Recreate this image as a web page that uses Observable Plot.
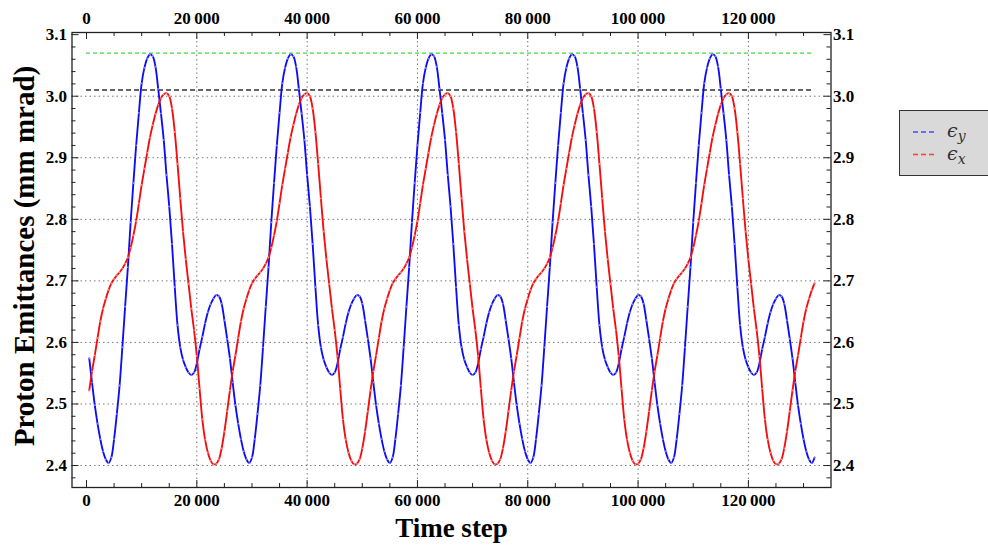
<!DOCTYPE html>
<html>
<head>
<meta charset="utf-8">
<script src="https://cdn.jsdelivr.net/npm/d3@7"></script>
<script src="https://cdn.jsdelivr.net/npm/@observablehq/plot@0.6"></script>
<style>
html, body { margin: 0; padding: 0; background: #fff; overflow: hidden; }
#wrap { position: relative; width: 988px; height: 546px; }
#legend { position: absolute; left: 899px; top: 110px; width: 100px; height: 66px; background: #d9d9d9; border: 1.5px solid #333; box-sizing: border-box; }
</style>
</head>
<body>
<div id="wrap"><div id="chart"></div><div id="legend"></div></div>
<script>
// ---- data ----
const steps = d3.range(500, 132001, 500); // time steps of the samples

// epsilon_y (blue)
const emitY = [
  2.574, 2.535, 2.498, 2.468, 2.443, 2.423, 2.410, 2.404, 2.413, 2.443,
  2.484, 2.530, 2.592, 2.658, 2.722, 2.795, 2.859, 2.920, 2.973, 3.021,
  3.046, 3.061, 3.068, 3.065, 3.048, 3.012, 2.972, 2.929, 2.872, 2.821,
  2.760, 2.690, 2.628, 2.592, 2.572, 2.560, 2.551, 2.547, 2.551, 2.566,
  2.589, 2.609, 2.631, 2.649, 2.662, 2.671, 2.677, 2.675, 2.663, 2.636,
  2.606,
  2.574, 2.535, 2.498, 2.468, 2.443, 2.423, 2.410, 2.404, 2.413, 2.443,
  2.484, 2.530, 2.592, 2.658, 2.722, 2.795, 2.859, 2.920, 2.973, 3.021,
  3.046, 3.061, 3.068, 3.065, 3.048, 3.012, 2.972, 2.929, 2.872, 2.821,
  2.760, 2.690, 2.628, 2.592, 2.572, 2.560, 2.551, 2.547, 2.551, 2.566,
  2.589, 2.609, 2.631, 2.649, 2.662, 2.671, 2.677, 2.675, 2.663, 2.636,
  2.606,
  2.574, 2.535, 2.498, 2.468, 2.443, 2.423, 2.410, 2.404, 2.413, 2.443,
  2.484, 2.530, 2.592, 2.658, 2.722, 2.795, 2.859, 2.920, 2.973, 3.021,
  3.046, 3.061, 3.068, 3.065, 3.048, 3.012, 2.972, 2.929, 2.872, 2.821,
  2.760, 2.690, 2.628, 2.592, 2.572, 2.560, 2.551, 2.547, 2.551, 2.566,
  2.589, 2.609, 2.631, 2.649, 2.662, 2.671, 2.677, 2.675, 2.663, 2.636,
  2.606,
  2.574, 2.535, 2.498, 2.468, 2.443, 2.423, 2.410, 2.404, 2.413, 2.443,
  2.484, 2.530, 2.592, 2.658, 2.722, 2.795, 2.859, 2.920, 2.973, 3.021,
  3.046, 3.061, 3.068, 3.065, 3.048, 3.012, 2.972, 2.929, 2.872, 2.821,
  2.760, 2.690, 2.628, 2.592, 2.572, 2.560, 2.551, 2.547, 2.551, 2.566,
  2.589, 2.609, 2.631, 2.649, 2.662, 2.671, 2.677, 2.675, 2.663, 2.636,
  2.606,
  2.574, 2.535, 2.498, 2.468, 2.443, 2.423, 2.410, 2.404, 2.413, 2.443,
  2.484, 2.530, 2.592, 2.658, 2.722, 2.795, 2.859, 2.920, 2.973, 3.021,
  3.046, 3.061, 3.068, 3.065, 3.048, 3.012, 2.972, 2.929, 2.872, 2.821,
  2.760, 2.690, 2.628, 2.592, 2.572, 2.560, 2.551, 2.547, 2.551, 2.566,
  2.589, 2.609, 2.631, 2.649, 2.662, 2.671, 2.677, 2.675, 2.663, 2.636,
  2.606,
  2.574, 2.535, 2.498, 2.468, 2.443, 2.423, 2.410, 2.404, 2.413
];

// epsilon_x (red)
const emitX = [
  2.522, 2.553, 2.579, 2.607, 2.634, 2.655, 2.671, 2.685, 2.696, 2.703,
  2.709, 2.714, 2.720, 2.728, 2.738, 2.754, 2.774, 2.797, 2.826, 2.856,
  2.882, 2.908, 2.933, 2.953, 2.971, 2.986, 2.997, 3.003, 3.005, 3.000,
  2.980, 2.942, 2.890, 2.834, 2.780, 2.735, 2.695, 2.655, 2.620, 2.578,
  2.525, 2.475, 2.442, 2.421, 2.408, 2.402, 2.403, 2.410, 2.428, 2.455,
  2.488,
  2.522, 2.553, 2.579, 2.607, 2.634, 2.655, 2.671, 2.685, 2.696, 2.703,
  2.709, 2.714, 2.720, 2.728, 2.738, 2.754, 2.774, 2.797, 2.826, 2.856,
  2.882, 2.908, 2.933, 2.953, 2.971, 2.986, 2.997, 3.003, 3.005, 3.000,
  2.980, 2.942, 2.890, 2.834, 2.780, 2.735, 2.695, 2.655, 2.620, 2.578,
  2.525, 2.475, 2.442, 2.421, 2.408, 2.402, 2.403, 2.410, 2.428, 2.455,
  2.488,
  2.522, 2.553, 2.579, 2.607, 2.634, 2.655, 2.671, 2.685, 2.696, 2.703,
  2.709, 2.714, 2.720, 2.728, 2.738, 2.754, 2.774, 2.797, 2.826, 2.856,
  2.882, 2.908, 2.933, 2.953, 2.971, 2.986, 2.997, 3.003, 3.005, 3.000,
  2.980, 2.942, 2.890, 2.834, 2.780, 2.735, 2.695, 2.655, 2.620, 2.578,
  2.525, 2.475, 2.442, 2.421, 2.408, 2.402, 2.403, 2.410, 2.428, 2.455,
  2.488,
  2.522, 2.553, 2.579, 2.607, 2.634, 2.655, 2.671, 2.685, 2.696, 2.703,
  2.709, 2.714, 2.720, 2.728, 2.738, 2.754, 2.774, 2.797, 2.826, 2.856,
  2.882, 2.908, 2.933, 2.953, 2.971, 2.986, 2.997, 3.003, 3.005, 3.000,
  2.980, 2.942, 2.890, 2.834, 2.780, 2.735, 2.695, 2.655, 2.620, 2.578,
  2.525, 2.475, 2.442, 2.421, 2.408, 2.402, 2.403, 2.410, 2.428, 2.455,
  2.488,
  2.522, 2.553, 2.579, 2.607, 2.634, 2.655, 2.671, 2.685, 2.696, 2.703,
  2.709, 2.714, 2.720, 2.728, 2.738, 2.754, 2.774, 2.797, 2.826, 2.856,
  2.882, 2.908, 2.933, 2.953, 2.971, 2.986, 2.997, 3.003, 3.005, 3.000,
  2.980, 2.942, 2.890, 2.834, 2.780, 2.735, 2.695, 2.655, 2.620, 2.578,
  2.525, 2.475, 2.442, 2.421, 2.408, 2.402, 2.403, 2.410, 2.428, 2.455,
  2.488,
  2.522, 2.553, 2.579, 2.607, 2.634, 2.655, 2.671, 2.685, 2.696
];

// reference levels (dashed horizontal lines) and their span in time steps
const refLevels = [3.07, 3.01];
const refSpan = [0, 132000];

// tick values
const xMajor = [0, 20000, 40000, 60000, 80000, 100000, 120000];
const xMinor = [5000, 10000, 15000, 25000, 30000, 35000, 45000, 50000, 55000, 65000, 70000, 75000,
                85000, 90000, 95000, 105000, 110000, 115000, 125000, 130000];
const yMajor = [2.4, 2.5, 2.6, 2.7, 2.8, 2.9, 3.0, 3.1];
const yMinor = [2.38, 2.42, 2.44, 2.46, 2.48, 2.52, 2.54, 2.56, 2.58, 2.62, 2.64, 2.66, 2.68,
                2.72, 2.74, 2.76, 2.78, 2.82, 2.84, 2.86, 2.88, 2.92, 2.94, 2.96, 2.98,
                3.02, 3.04, 3.06, 3.08];
const xGrid = [20000, 40000, 60000, 80000, 100000, 120000];
const yGrid = [2.4, 2.5, 2.6, 2.7, 2.8, 2.9, 3.0];

const xTitle = "Time step";
const yTitle = "Proton Emittances (mm mrad)";

// ---- layout ----
const W = 988, H = 546;
const mL = 71.5, mR = 157.5, mT = 32, mB = 59;
const innerW = W - mL - mR, innerH = H - mT - mB;
const majorLen = 7, minorLen = 4;

const blue = steps.map((t, i) => ({t, v: emitY[i]}));
const red = steps.map((t, i) => ({t, v: emitX[i]}));

const fmtX = d => d3.format(",")(d).replace(/,/g, "\u2009");
const fmtY = d3.format(".1f");
const tickCol = "#222";

const chart = Plot.plot({
  width: W, height: H,
  marginLeft: mL, marginRight: mR, marginTop: mT, marginBottom: mB,
  style: {fontFamily: "'Liberation Serif', 'Times New Roman', serif", fontSize: "17px", fontWeight: "bold", color: "black", background: "white"},
  x: {domain: [-2630, 134980]},
  y: {domain: [2.3643, 3.1035]},
  marks: [
    Plot.gridX(xGrid, {stroke: "#777", strokeOpacity: 1, strokeWidth: 1, strokeDasharray: "1.5,3"}),
    Plot.gridY(yGrid, {stroke: "#777", strokeOpacity: 1, strokeWidth: 1, strokeDasharray: "1.5,3"}),
    Plot.ruleY([refLevels[0]], {y: d => d, x1: refSpan[0], x2: refSpan[1], stroke: "#3fdc3f", strokeWidth: 1.2, strokeDasharray: "4,3"}),
    Plot.ruleY([refLevels[1]], {y: d => d, x1: refSpan[0], x2: refSpan[1], stroke: "#333", strokeWidth: 1.5, strokeDasharray: "5,3"}),
    Plot.line(blue, {x: "t", y: "v", stroke: "#0c0cf5", strokeWidth: 1.85, curve: "catmull-rom"}),
    Plot.dot(blue, {x: "t", y: "v", r: 0.9, fill: "#8a8aff", stroke: null}),
    Plot.line(red, {x: "t", y: "v", stroke: "#f50c0c", strokeWidth: 1.85, curve: "catmull-rom"}),
    Plot.dot(red, {x: "t", y: "v", r: 0.9, fill: "#ff8a8a", stroke: null}),
    // inward frame ticks
    Plot.tickX(xMajor, {x: d => d, insetTop: innerH - majorLen, stroke: tickCol}),
    Plot.tickX(xMinor, {x: d => d, insetTop: innerH - minorLen, stroke: tickCol}),
    Plot.tickX(xMajor, {x: d => d, insetBottom: innerH - majorLen, stroke: tickCol}),
    Plot.tickX(xMinor, {x: d => d, insetBottom: innerH - minorLen, stroke: tickCol}),
    Plot.tickY(yMajor, {y: d => d, insetRight: innerW - majorLen, stroke: tickCol}),
    Plot.tickY(yMinor, {y: d => d, insetRight: innerW - minorLen, stroke: tickCol}),
    Plot.tickY(yMajor, {y: d => d, insetLeft: innerW - majorLen, stroke: tickCol}),
    Plot.tickY(yMinor, {y: d => d, insetLeft: innerW - minorLen, stroke: tickCol}),
    // tick labels
    Plot.axisX({anchor: "bottom", ticks: xMajor, tickSize: 0, tickPadding: 6, tickFormat: fmtX, label: null}),
    Plot.axisX({anchor: "top", ticks: xMajor, tickSize: 0, tickPadding: 9, tickFormat: fmtX, label: null}),
    Plot.axisY({anchor: "left", ticks: yMajor, tickSize: 0, tickPadding: 5, tickFormat: fmtY, label: null}),
    Plot.axisY({anchor: "right", ticks: yMajor, tickSize: 0, tickPadding: 2, tickFormat: fmtY, label: null}),
    Plot.frame({stroke: tickCol, strokeWidth: 1.3}),
    // axis titles
    Plot.text([xTitle], {text: d => d, frameAnchor: "bottom", dy: 41, lineAnchor: "middle", textAnchor: "middle", fontSize: 27, fontWeight: "bold", fill: "black"}),
    Plot.text([yTitle], {text: d => d, frameAnchor: "left", dx: -47, dy: -4, rotate: -90, lineAnchor: "middle", textAnchor: "middle", fontSize: 29, fontWeight: "bold", fill: "black"})
  ]
});
document.getElementById("chart").appendChild(chart);

// ---- legend ----
const legendItems = [
  {sym: "\u03F5", sub: "y", color: "#4848ff"},
  {sym: "\u03F5", sub: "x", color: "#ff3a3a"}
];
const lg = d3.select("#legend").append("svg").attr("width", 100).attr("height", 64)
  .style("position", "absolute").style("left", "-1.5px").style("top", "-1.5px");
legendItems.forEach((it, i) => {
  const y = 22 + i * 22.5;
  lg.append("line").attr("x1", 14).attr("x2", 36).attr("y1", y).attr("y2", y)
    .attr("stroke", it.color).attr("stroke-width", 1.5).attr("stroke-dasharray", "5,3");
  const t = lg.append("text").attr("x", 48).attr("y", y + 5)
    .style("font-family", "'DejaVu Serif', 'Liberation Serif', serif").style("font-style", "italic")
    .style("font-size", "19px").attr("fill", "#333");
  t.append("tspan").text(it.sym);
  t.append("tspan").attr("dy", 4).style("font-size", "14px").text(it.sub);
});
</script>
</body>
</html>
